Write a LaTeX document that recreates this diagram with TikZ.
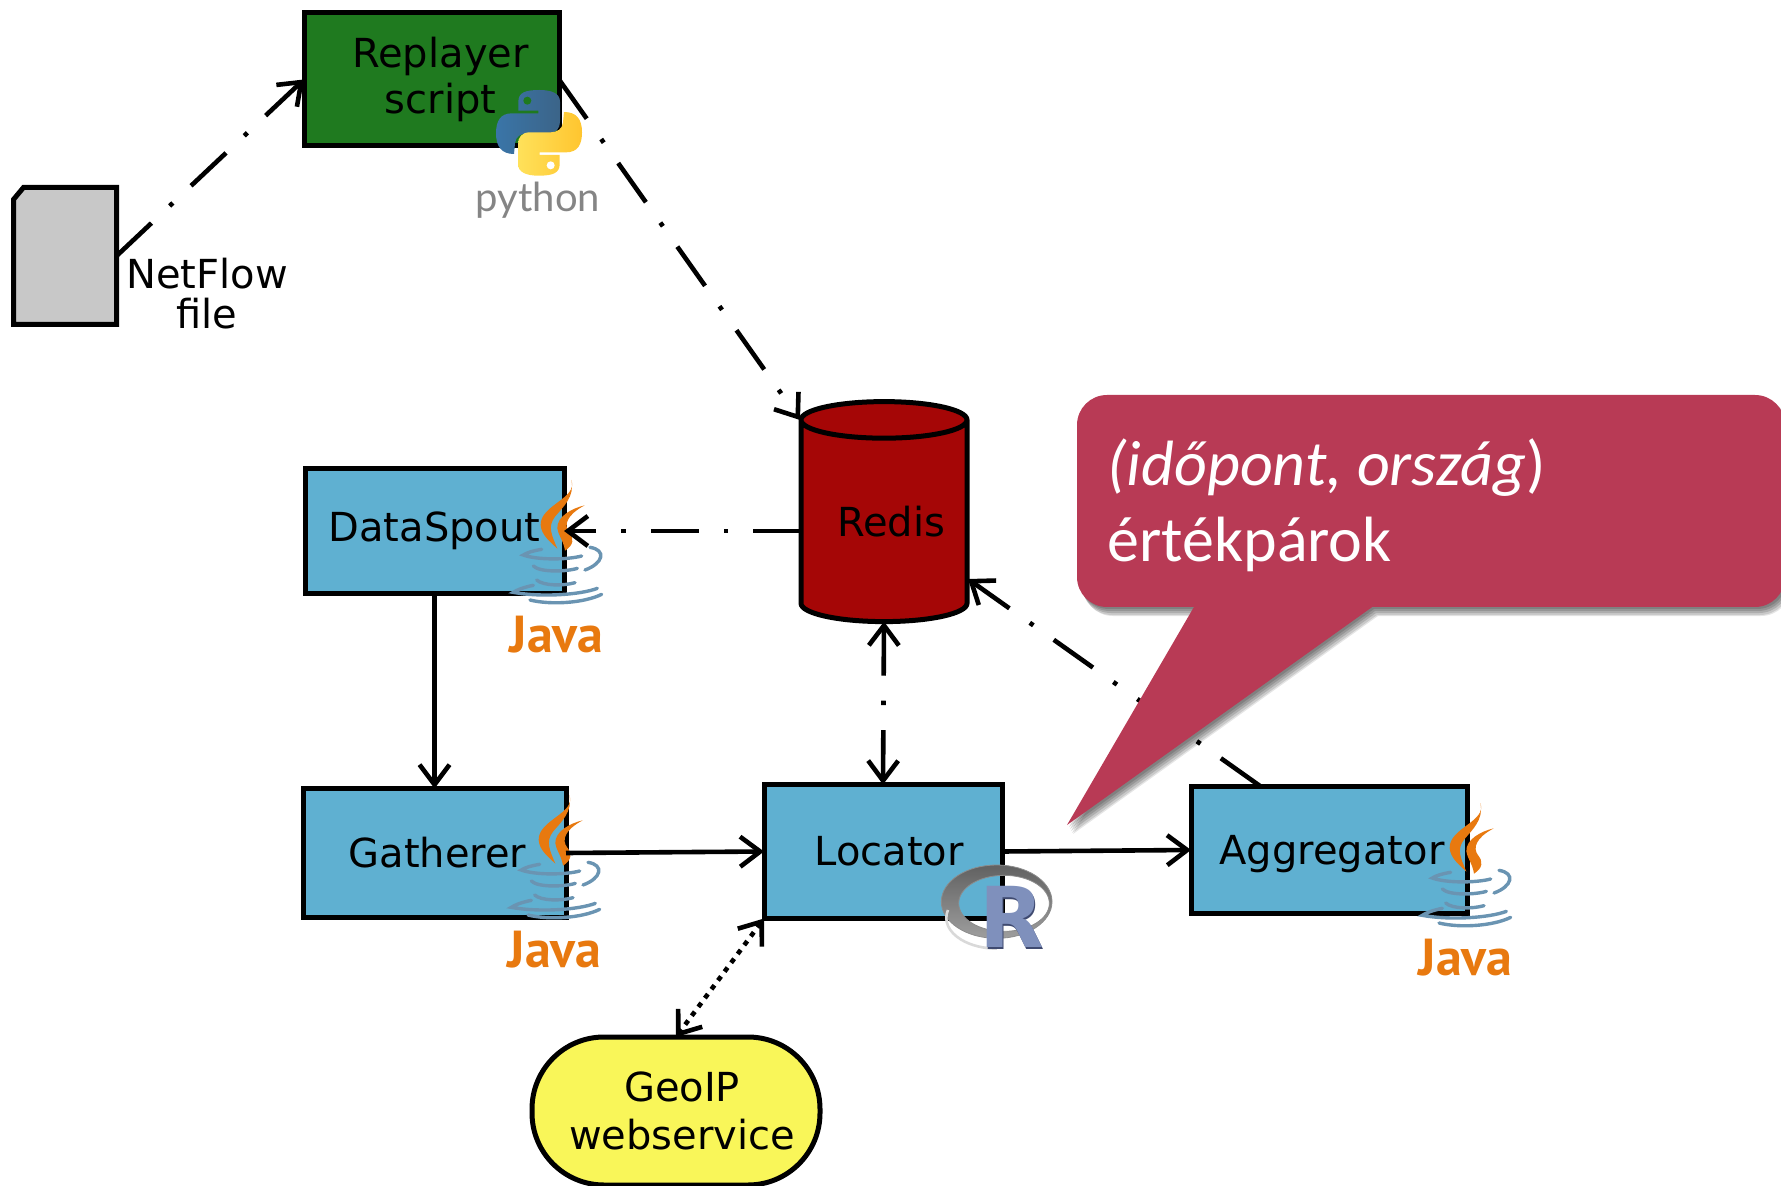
\documentclass[tikz,border=0pt]{standalone}
\usepackage{fontspec}
\setmainfont{DejaVu Sans}
\newfontfamily\calloutfont{Carlito}
\newfontfamily\logofont{Lato}
\newfontfamily\javafont{PT Sans}
\newfontfamily\rfont{DejaVu Sans}
\usetikzlibrary{arrows.meta,shapes.geometric}
\definecolor{boxblue}{HTML}{5FB0D1}
\definecolor{boxgreen}{HTML}{1F7A1F}
\definecolor{redisred}{HTML}{A50606}
\definecolor{geoyellow}{HTML}{F9F659}
\definecolor{filegrey}{HTML}{C8C8C8}
\definecolor{calloutred}{HTML}{B83A55}
\definecolor{javaorange}{HTML}{E8790F}
\definecolor{javablue}{HTML}{6A94B2}
\definecolor{pyblue}{HTML}{3A75A8}
\definecolor{pyblued}{HTML}{3B6488}
\definecolor{pyyell}{HTML}{FFE15A}
\definecolor{pyyelld}{HTML}{FFC52F}
\definecolor{rblue}{HTML}{7F90BC}
\definecolor{rdark}{HTML}{3F4A70}
\tikzset{
  boxbase/.style={draw=black,line width=2.5pt,outer sep=0pt,inner sep=0pt,align=center,font=\fontsize{20}{23}\selectfont},
  bluebox/.style={boxbase,fill=boxblue},
  link/.style={line width=2.3pt,-{Straight Barb[length=10pt,width=15pt,line width=2.3pt]}},
  twoway/.style={line width=2.3pt,{Straight Barb[length=10pt,width=15pt,line width=2.3pt]}-{Straight Barb[length=10pt,width=15pt,line width=2.3pt]}},
  dashdot/.style={dash pattern=on 24pt off 12.5pt on 2.2pt off 12.5pt},
  finedots/.style={dash pattern=on 2.5pt off 3pt},
  javacurve/.style={draw=javablue,line width=1.7pt,line cap=round},
}
\newcommand\javalogo[3]{%
\begin{scope}[shift={(#1,#2)},x=0.16667pt,y=-0.16667pt]
\fill[javaorange] (214,60) .. controls (235,115) and (120,135) .. (122,195) .. controls (124,225) and (150,245) .. (172,266) .. controls (155,225) and (142,200) .. (165,170) .. controls (190,140) and (225,110) .. (214,60) -- cycle;
\fill[javaorange] (254,136) .. controls (215,145) and (170,170) .. (172,205) .. controls (174,225) and (190,240) .. (195,272) .. controls (222,255) and (222,235) .. (208,218) .. controls (190,195) and (200,165) .. (254,136) -- cycle;
\draw[javacurve] (125,268) .. controls (100,272) and (80,278) .. (70,285) .. controls (110,300) and (200,300) .. (245,288);
\draw[javacurve] (100,318) .. controls (120,338) and (200,335) .. (232,325);
\draw[javacurve] (110,360) .. controls (130,378) and (190,378) .. (225,368);
\draw[javacurve] (270,262) .. controls (320,270) and (310,310) .. (255,330);
\draw[javacurve] (100,376) .. controls (70,382) and (50,390) .. (40,397) .. controls (120,412) and (240,405) .. (292,385);
\draw[javacurve] (90,420) .. controls (150,435) and (250,430) .. (305,403);
\node[text=javaorange,font=\javafont\bfseries\fontsize{26}{26}\selectfont,inner sep=0pt] (#3) at (170,525) {Java};
\end{scope}}
\begin{document}
\begin{tikzpicture}[x=0.5pt,y=-0.5pt]
\useasboundingbox (0,0) rectangle (1781,1186);
\clip (0,0) rectangle (1781,1186);
% boxes
\node[boxbase,fill=boxgreen,minimum width=127.5pt,minimum height=66.5pt] (replayer) at (431.5,79.5) {\hspace*{9pt}Replayer\\\hspace*{9pt}script};
\node[inner sep=0pt,outer sep=0pt,minimum width=51.5pt,minimum height=68.5pt] (netflow) at (65,256) {};
\draw[draw=black,line width=2.5pt,fill=filegrey] (netflow.north east) -- (netflow.south east) -- (netflow.south west) -- ([yshift=-6pt]netflow.north west) -- ([xshift=5pt]netflow.north west) -- cycle;
\node[inner sep=0pt,align=center,font=\fontsize{20}{20}\selectfont] (netflowlabel) at (207,294) {NetFlow\\file};
\node[bluebox,minimum width=129.5pt,minimum height=62.5pt] (dataspout) at (434.5,531) {DataSpout};
\node[bluebox,minimum width=131.5pt,minimum height=64.5pt] (gatherer) at (434.5,853) {\hspace*{3pt}Gatherer};
\node[bluebox,minimum width=119pt,minimum height=67pt] (locator) at (883,851.5) {\hspace*{6pt}Locator};
\node[bluebox,minimum width=138pt,minimum height=63.5pt,text depth=0pt] (aggregator) at (1329,850) {\hspace*{3pt}Aggregator};
\node[boxbase,fill=redisred,cylinder,shape border rotate=90,aspect=0.3,minimum width=83pt,minimum height=110pt] (redis) at (884,522) {\hspace*{7pt}Redis};
\node[boxbase,fill=geoyellow,rectangle,rounded corners=36pt,minimum width=144pt,minimum height=74pt,font=\fontsize{20}{24}\selectfont] (geoip) at (676,1111) {\hspace*{6pt}GeoIP\\\hspace*{6pt}webservice};
% logos
\begin{scope}[shift={(450,0)},x=0.16667pt,y=-0.16667pt]
\shade[left color=pyblue,right color=pyblued] (268,270) .. controls (225,270) and (205,278) .. (205,305) -- (205,332) -- (265,332) -- (265,340) -- (185,340) .. controls (150,340) and (138,365) .. (138,400) .. controls (138,440) and (155,462) .. (192,462) -- (195,430) .. controls (197,410) and (212,400) .. (232,400) -- (295,400) .. controls (318,400) and (330,385) .. (330,365) -- (330,305) .. controls (330,280) and (305,270) .. (268,270) -- cycle;
\fill[boxgreen] (232,302) circle[radius=12];
\shade[left color=pyyell,right color=pyyelld] (266,527) .. controls (309,527) and (329,519) .. (329,492) -- (329,465) -- (269,465) -- (269,457) -- (349,457) .. controls (384,457) and (396,432) .. (396,397) .. controls (396,357) and (379,336) .. (342,336) -- (339,367) .. controls (337,387) and (322,397) .. (302,397) -- (239,397) .. controls (216,397) and (204,412) .. (204,432) -- (204,492) .. controls (204,517) and (229,527) .. (266,527) -- cycle;
\fill[white] (302,496) circle[radius=12];
\node[text=black!48,font=\logofont\fontsize{20}{20}\selectfont,inner sep=0pt] (pythonword) at (264,602) {python};
\end{scope}
\javalogo{500}{460}{javaspout}
\javalogo{498}{775}{javagatherer}
\javalogo{1409}{783}{javaaggregator}
\begin{scope}[shift={(920,840)},x=0.16667pt,y=-0.16667pt]
\path[even odd rule,top color=black!62,bottom color=black!38,draw=black!45,line width=.4pt] (230,185) ellipse[x radius=166,y radius=110] (252,190) ellipse[x radius=136,y radius=84];
\draw[white!85!black,line width=1.3pt] (84,210) arc[start angle=195,end angle=90,x radius=152,y radius=92];
\node[text=rdark,font=\rfont\bfseries\fontsize{42}{42}\selectfont,inner sep=0pt] (rshadow) at (279,236) {R};
\node[text=rblue,font=\rfont\bfseries\fontsize{42}{42}\selectfont,inner sep=0pt] (rletter) at (276,232) {R};
\end{scope}
% connectors
\draw[link,dashdot] (netflow.east) -- (replayer.west);
\coordinate (redistopleft) at (800,420);
\coordinate (redislowright) at (968,579);
\coordinate (aggrtop) at (1260,786);
\draw[link,dashdot] (replayer.east) -- (redistopleft);
\draw[link,dashdot] (redis.west |- dataspout.east) -- (dataspout.east);
\draw[link,dashdot] (aggrtop) -- (redislowright);
\draw[twoway,dashdot] (redis.south) -- (locator.north);
\draw[link] (dataspout.south) -- (gatherer.north);
\draw[link] (gatherer.east) -- (locator.west);
\draw[link] (locator.east) -- (aggregator.west);
\draw[twoway,finedots] (locator.south west) -- (geoip.north);
% callout
\foreach \sx/\sy/\so in {6/9/.10,5/8/.12,4/6/.14,3/4/.14,2/2/.14}{
\fill[black,opacity=\so,rounded corners=15pt] (1077+\sx,395+\sy) rectangle (1785+\sx,607+\sy);
\fill[black,opacity=\so,shift={(\sx,\sy)}] (1194,607) -- (1372,607) -- (1067,825) -- cycle;
}
\fill[calloutred,rounded corners=15pt] (1077,395) rectangle (1785,607);
\fill[calloutred] (1198,600) -- (1382,600) -- (1067,825) -- cycle;
\node[anchor=west,inner sep=0pt,text=white,align=left,font=\calloutfont\fontsize{32}{38}\selectfont] (callouttext) at (1107,505) {\textit{(időpont, ország})\\értékpárok};
\end{tikzpicture}
\end{document}
